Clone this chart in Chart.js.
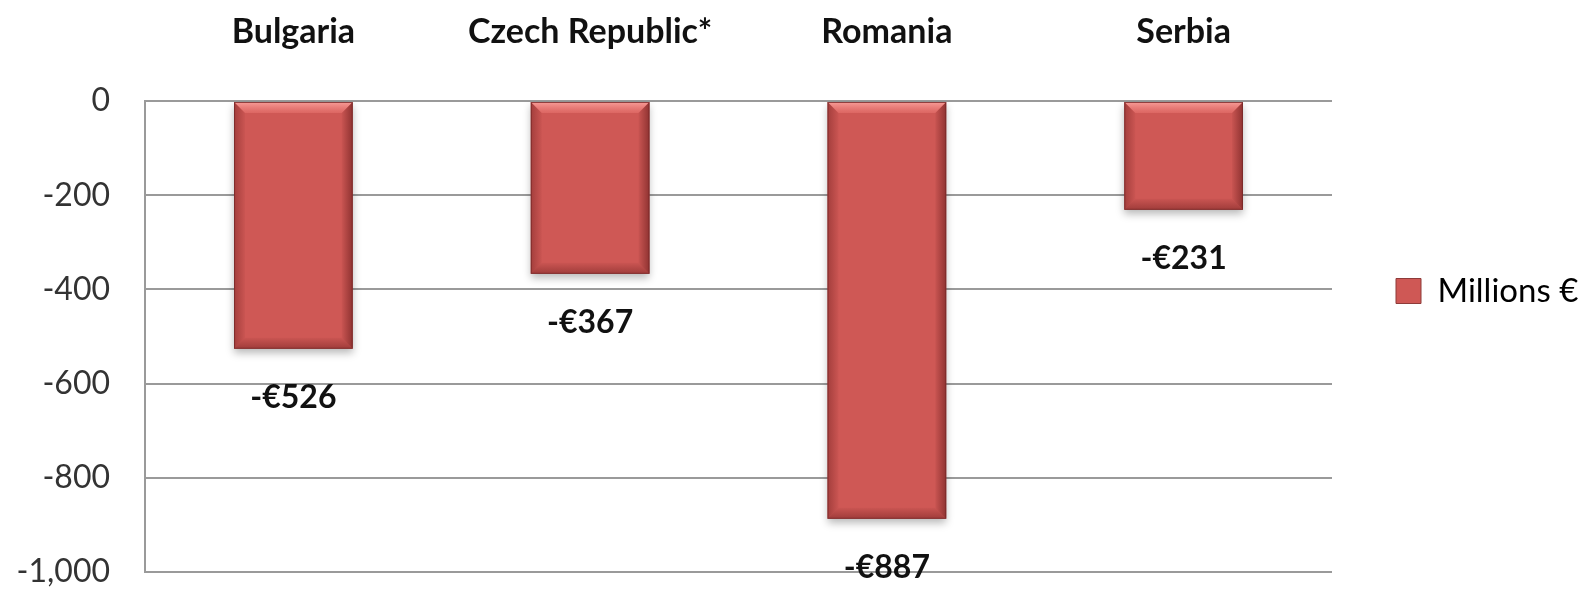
<!DOCTYPE html>
<html>
<head>
<meta charset="utf-8">
<style>
  html, body { margin: 0; padding: 0; background: #ffffff; }
  #wrap { width: 1586px; height: 592px; position: relative; }
</style>
<script src="https://cdn.jsdelivr.net/npm/chart.js@4/dist/chart.umd.min.js"></script>
</head>
<body>
<div id="wrap"><canvas id="c" width="1586" height="592"></canvas></div>
<script>
const categories = ['Bulgaria', 'Czech Republic*', 'Romania', 'Serbia'];
const seriesName = 'Millions €';
const values = [-526, -367, -887, -231];
const yTicks = [0, -200, -400, -600, -800, -1000];

const FONT = 'Lato, "Open Sans", "DejaVu Sans", sans-serif';

const bevelPlugin = {
  id: 'bevel',
  beforeDatasetDraw(chart) {
    const ctx = chart.ctx;
    ctx.save();
    ctx.shadowColor = 'rgba(0,0,0,0.28)';
    ctx.shadowBlur = 8;
    ctx.shadowOffsetX = 0;
    ctx.shadowOffsetY = 4;
  },
  afterDatasetDraw(chart, args) {
    const ctx = chart.ctx;
    ctx.restore();
    const meta = args.meta;
    meta.data.forEach(el => {
      const p = el.getProps(['x', 'y', 'base', 'width'], true);
      const l = p.x - p.width / 2, r = p.x + p.width / 2;
      const t = Math.min(p.y, p.base), b = Math.max(p.y, p.base);
      const bv = 11;
      ctx.save();
      let g = ctx.createLinearGradient(0, t, 0, t + bv);
      g.addColorStop(0, 'rgba(255,170,165,0.85)');
      g.addColorStop(1, 'rgba(245,130,125,0.35)');
      ctx.fillStyle = g;
      ctx.beginPath();
      ctx.moveTo(l, t); ctx.lineTo(r, t); ctx.lineTo(r - bv, t + bv); ctx.lineTo(l + bv, t + bv); ctx.closePath();
      ctx.fill();
      g = ctx.createLinearGradient(l, 0, l + bv, 0);
      g.addColorStop(0, 'rgba(110,30,30,0.45)');
      g.addColorStop(1, 'rgba(110,30,30,0.05)');
      ctx.fillStyle = g;
      ctx.beginPath();
      ctx.moveTo(l, t); ctx.lineTo(l + bv, t + bv); ctx.lineTo(l + bv, b - bv); ctx.lineTo(l, b); ctx.closePath();
      ctx.fill();
      g = ctx.createLinearGradient(r, 0, r - bv, 0);
      g.addColorStop(0, 'rgba(90,20,20,0.55)');
      g.addColorStop(1, 'rgba(90,20,20,0.05)');
      ctx.fillStyle = g;
      ctx.beginPath();
      ctx.moveTo(r, t); ctx.lineTo(r - bv, t + bv); ctx.lineTo(r - bv, b - bv); ctx.lineTo(r, b); ctx.closePath();
      ctx.fill();
      g = ctx.createLinearGradient(0, b, 0, b - bv);
      g.addColorStop(0, 'rgba(100,25,25,0.45)');
      g.addColorStop(1, 'rgba(100,25,25,0.05)');
      ctx.fillStyle = g;
      ctx.beginPath();
      ctx.moveTo(l, b); ctx.lineTo(r, b); ctx.lineTo(r - bv, b - bv); ctx.lineTo(l + bv, b - bv); ctx.closePath();
      ctx.fill();
      ctx.strokeStyle = 'rgba(120,40,40,0.8)';
      ctx.lineWidth = 1;
      ctx.strokeRect(l + 0.5, t + 0.5, r - l - 1, b - t - 1);
      ctx.restore();
    });
  }
};

const labelPlugin = {
  id: 'valueLabels',
  afterDatasetsDraw(chart) {
    const ctx = chart.ctx;
    ctx.save();
    ctx.font = 'bold 32px ' + FONT;
    ctx.fillStyle = '#111111';
    ctx.textAlign = 'center';
    ctx.textBaseline = 'middle';
    const meta = chart.getDatasetMeta(0);
    meta.data.forEach((el, i) => {
      const v = chart.data.datasets[0].data[i];
      const txt = (v < 0 ? '-' : '') + '€' + Math.abs(v);
      ctx.fillText(txt, el.x, el.y + 49);
    });
    ctx.restore();
  }
};

new Chart(document.getElementById('c'), {
  type: 'bar',
  data: {
    labels: categories,
    datasets: [{
      label: seriesName,
      data: values,
      backgroundColor: '#CF5855',
      borderWidth: 0,
      barPercentage: 0.8,
      categoryPercentage: 0.5
    }]
  },
  options: {
    responsive: false,
    animation: false,
    devicePixelRatio: 1,
    layout: { padding: { top: 10, bottom: 20, left: 0, right: 0 } },
    plugins: {
      tooltip: { enabled: false },
      legend: {
        position: 'right',
        maxWidth: 254,
        labels: {
          boxWidth: 25,
          boxHeight: 25,
          padding: 64,
          color: '#333333',
          font: { family: FONT, size: 33 },
          generateLabels: (chart) => [{
            text: seriesName,
            fillStyle: '#CF5855',
            strokeStyle: '#8E3B39',
            lineWidth: 1,
            hidden: false,
            datasetIndex: 0
          }]
        }
      }
    },
    scales: {
      x: {
        position: 'top',
        grid: { display: false, drawTicks: false },
        border: { display: false },
        afterFit: (scale) => { scale.height = 91; scale.paddingLeft = 0; scale.paddingRight = 0; },
        ticks: {
          padding: 49,
          color: '#111111',
          font: { family: FONT, size: 34, weight: 'bold' }
        }
      },
      y: {
        min: -1000,
        max: 0,
        afterBuildTicks: (scale) => { scale.ticks = yTicks.map(v => ({ value: v })); },
        afterFit: (scale) => { scale.width = 145; scale.paddingTop = 0; scale.paddingBottom = 0; },
        grid: { color: '#9a9a9a', lineWidth: 2, drawTicks: false },
        border: { display: true, color: '#9a9a9a', width: 2 },
        ticks: {
          padding: 35,
          color: '#333333',
          font: { family: FONT, size: 32 },
          callback: (v) => v.toLocaleString('en-US')
        }
      }
    }
  },
  plugins: [bevelPlugin, labelPlugin]
});
</script>
</body>
</html>
